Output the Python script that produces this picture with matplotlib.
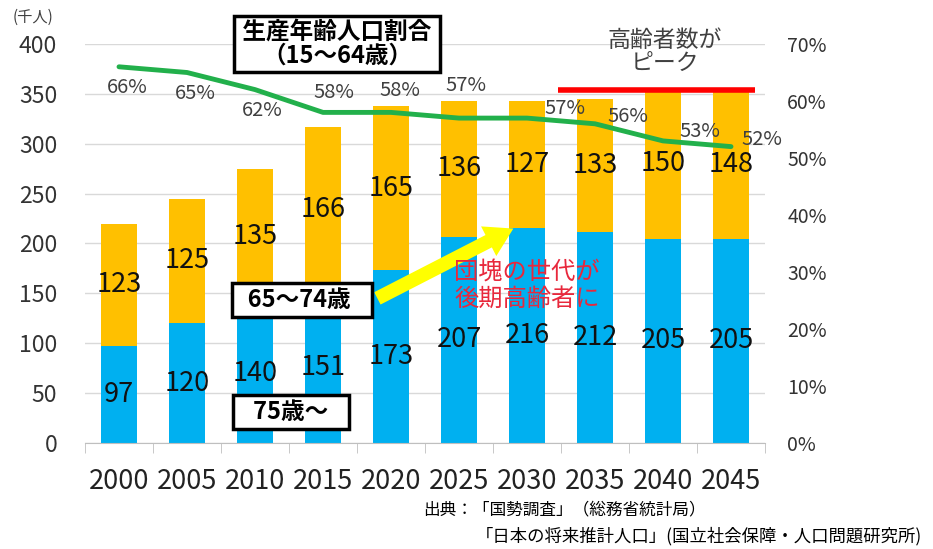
import matplotlib
matplotlib.use("Agg")
import matplotlib.pyplot as plt

plt.rcParams['font.family'] = ['Noto Sans CJK JP', 'DejaVu Sans']

years = ['2000', '2005', '2010', '2015', '2020', '2025', '2030', '2035', '2040', '2045']
over75 = [97, 120, 140, 151, 173, 207, 216, 212, 205, 205]
age65_74 = [123, 125, 135, 166, 165, 136, 127, 133, 150, 148]
working_pct = [66, 65, 62, 58, 58, 57, 57, 56, 53, 52]

blue = '#00B0F0'
orange = '#FFC000'
green = '#22B04B'
grey_txt = '#404040'

fig = plt.figure(figsize=(9.33, 5.49), dpi=100)
ax = fig.add_axes([85/933, 1-443/549, 680/933, 399/549])
x = list(range(len(years)))

ax.bar(x, over75, width=0.52, color=blue, zorder=2)
ax.bar(x, age65_74, width=0.52, bottom=over75, color=orange, zorder=2)

for i in x:
    ax.text(i, over75[i]/2, str(over75[i]), ha='center', va='center', fontsize=19.5, color='#111111', zorder=5)
    ax.text(i, over75[i] + age65_74[i]/2, str(age65_74[i]), ha='center', va='center', fontsize=19.5, color='#111111', zorder=5)

ax.set_xlim(-0.5, 9.5)
ax.set_ylim(0, 400)
ax.set_yticks(range(0, 401, 50))
ax.grid(axis='y', color='#D9D9D9', lw=1, zorder=0)
ax.set_axisbelow(True)
for s in ['left', 'right', 'top']:
    ax.spines[s].set_visible(False)
ax.spines['bottom'].set_color('#BFBFBF')
ax.set_xticks(x)
ax.set_xticklabels(years, fontsize=19.5, color='#222222')
ax.set_xticks([i + 0.5 for i in range(-1, 10)], minor=True)
ax.tick_params(axis='x', which='major', length=0, pad=18)
ax.tick_params(axis='x', which='minor', length=7, color='#BFBFBF')
ax.tick_params(axis='y', length=0, pad=20, labelsize=16.5, labelcolor='#333333')

ax2 = ax.twinx()
ax2.set_ylim(0, 0.7)
ax2.set_yticks([i/100 for i in range(0, 71, 10)])
ax2.set_yticklabels([f'{i}%' for i in range(0, 71, 10)])
ax2.tick_params(axis='y', length=0, pad=16, labelsize=14, labelcolor='#333333')
for s in ['left', 'right', 'top', 'bottom']:
    ax2.spines[s].set_visible(False)

pct = [p/100 for p in working_pct]
ax2.plot(x, pct, color=green, lw=3.5, solid_joinstyle='round', solid_capstyle='round', zorder=4)

# label offsets in pixels (right, down)
offs = [(8, -21), (8, -21), (7, -21), (11, 20), (9, 22), (7, 33), (38, 10), (33, 7), (37, 9), (31, 7)]
for i, p in enumerate(working_pct):
    ax2.annotate(f'{p}%', (i, p/100), xytext=offs[i], textcoords='offset pixels',
                 ha='center', va='center', fontsize=14.5, color=grey_txt, zorder=6)

# peak marker
ax.plot([6.46, 9.35], [354, 354], color='#FF0000', lw=4, solid_capstyle='butt', zorder=6, clip_on=False)
fig.text(665/933, 1-52/549, '高齢者数が\nピーク', ha='center', va='center', fontsize=16.5,
         color=grey_txt, linespacing=0.95)

# yellow arrow
ax.annotate('', xy=(5.8, 215), xytext=(3.8, 145),
            arrowprops=dict(arrowstyle='simple,head_width=1.2,head_length=1.0,tail_width=0.5',
                            fc='#FFFF00', ec='none', mutation_scale=20, shrinkA=0, shrinkB=0),
            zorder=6)
fig.text(527/933, 1-285/549, '団塊の世代が\n後期高齢者に', ha='center', va='center', fontsize=17.5,
         color='#E8283C', linespacing=1.05, zorder=7)

box = dict(boxstyle='square,pad=0.2', fc='white', ec='black', lw=2.5)
fig.text(337/933, 1-44/549, ' 生産年齢人口割合 \n（15～64歳）', ha='center', va='center', fontsize=17,
         fontweight='bold', linespacing=1.0,
         bbox=dict(boxstyle='square,pad=0.15', fc='white', ec='black', lw=2.5))
fig.text(302/933, 1-300/549, '  65～74歳   ', ha='center', va='center', fontsize=17,
         fontweight='bold', bbox=box, zorder=7)
fig.text(291/933, 1-412/549, '   75歳～   ', ha='center', va='center', fontsize=17,
         fontweight='bold', bbox=box, zorder=7)

fig.text(33/933, 1-17/549, '(千人)', ha='center', va='center', fontsize=11, color=grey_txt)
fig.text(423/933, 1-510/549, '出典：「国勢調査」（総務省統計局）', ha='left', va='center', fontsize=12)
fig.text(476/933, 1-536/549, '「日本の将来推計人口」(国立社会保障・人口問題研究所)', ha='left', va='center', fontsize=12.5)

fig.savefig('out.png', dpi=100)
